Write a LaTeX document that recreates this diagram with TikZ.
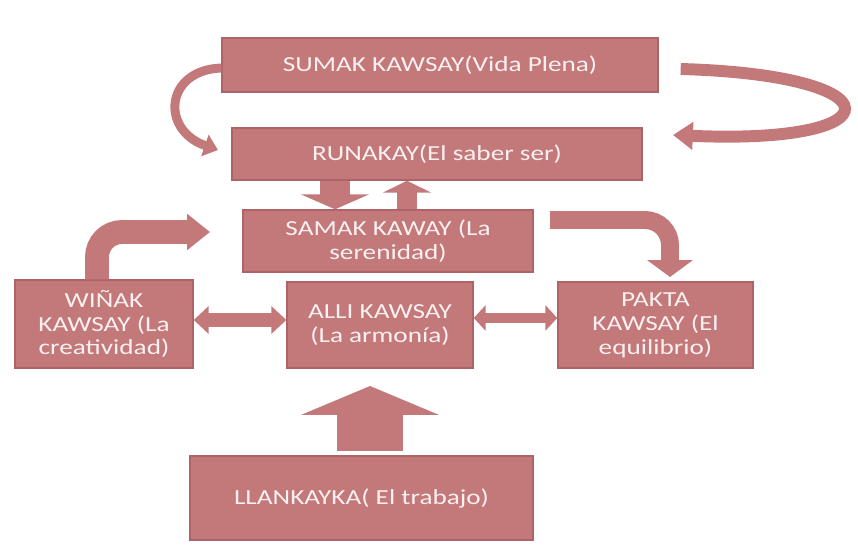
\documentclass[tikz,border=0pt]{standalone}
\usepackage{fontspec}
\setmainfont[FakeStretch=1.27]{Carlito}
\usetikzlibrary{arrows.meta}
\definecolor{boxfill}{HTML}{C3787A}
\definecolor{boxline}{HTML}{AD6466}
\definecolor{boxtext}{HTML}{FAF0F0}
\begin{document}
\begin{tikzpicture}[x=0.02cm,y=-0.02cm,
  box/.style={draw=boxline,line width=0.8pt,fill=boxfill,text=boxtext,align=center,
    font=\fontsize{12.2}{13.6}\selectfont,inner sep=0pt},
  fat/.style={draw=boxfill,line cap=butt}]
\useasboundingbox (0,0) rectangle (858,550);

\node[box,minimum width=8.72cm,minimum height=1.08cm] (sumak) at (440,65) {SUMAK KAWSAY(Vida Plena)};
\node[box,minimum width=8.2cm,minimum height=1.04cm] (runakay) at (437,154) {RUNAKAY(El saber ser)};
\node[box,minimum width=5.8cm,minimum height=1.24cm] (samak) at (388,241) {SAMAK KAWAY (La\\serenidad)};
\node[box,minimum width=3.56cm,minimum height=1.76cm] (winak) at (104,324) {WIÑAK\\KAWSAY (La\\creatividad)};
\node[box,minimum width=3.72cm,minimum height=1.72cm] (alli) at (380,325) {ALLI KAWSAY\\(La armonía)};
\node[box,minimum width=3.9cm,minimum height=1.72cm] (pakta) at (655.5,325) {PAKTA\\KAWSAY (El\\equilibrio)};
\node[box,minimum width=6.86cm,minimum height=1.68cm] (llankayka) at (361.5,498) {LLANKAYKA( El trabajo)};

% curved arrows from the top box
\coordinate (lefttip) at (218,150);
\coordinate (righttip) at (673,135);
\draw[fat,line width=5.1pt,-{Triangle[width=12.5pt,length=7.9pt]}]
  ([yshift=-0.06cm]sumak.west) .. controls (165,70) and (160,130) .. (lefttip);
\draw[fat,line width=6.8pt,-{Triangle[width=15.3pt,length=11.3pt]}]
  ([xshift=0.44cm,yshift=-0.08cm]sumak.east) .. controls (898,75) and (898,145) .. (righttip);

% between runakay and samak
\draw[fat,line width=17pt,-{Triangle[width=38.5pt,length=8.5pt]}] (runakay.south -| 335,0) -- (samak.north -| 335,0);
\draw[fat,line width=11.9pt,-{Triangle[width=27.2pt,length=6.8pt]}] (samak.north -| 407,0) -- (runakay.south -| 407,0);

% bent arrows
\coordinate (samakin) at (210,232);
\coordinate (paktain) at (670,277);
\draw[fat,line width=13.6pt,rounded corners=0.5cm,-{Triangle[width=19.8pt,length=13pt]}]
  (winak.north -| 97,0) |- (samakin);
\draw[fat,line width=10.2pt,rounded corners=0.5cm,-{Triangle[width=25.5pt,length=9.6pt]}]
  (550,220) -| (paktain);

% double arrows
\draw[fat,line width=7.9pt,{Triangle[width=15.3pt,length=8.5pt]}-{Triangle[width=15.3pt,length=8.5pt]}]
  (winak.east |- 0,320) -- (alli.west |- 0,320);
\draw[fat,line width=5.7pt,{Triangle[width=14.2pt,length=6.8pt]}-{Triangle[width=14.2pt,length=6.8pt]}]
  (alli.east |- 0,318) -- (pakta.west |- 0,318);

% big arrow from below
\coordinate (allitip) at (370,386);
\draw[fat,line width=37.4pt,-{Triangle[width=77.7pt,length=16.4pt]}] (370,451) -- (allitip);
\end{tikzpicture}
\end{document}
